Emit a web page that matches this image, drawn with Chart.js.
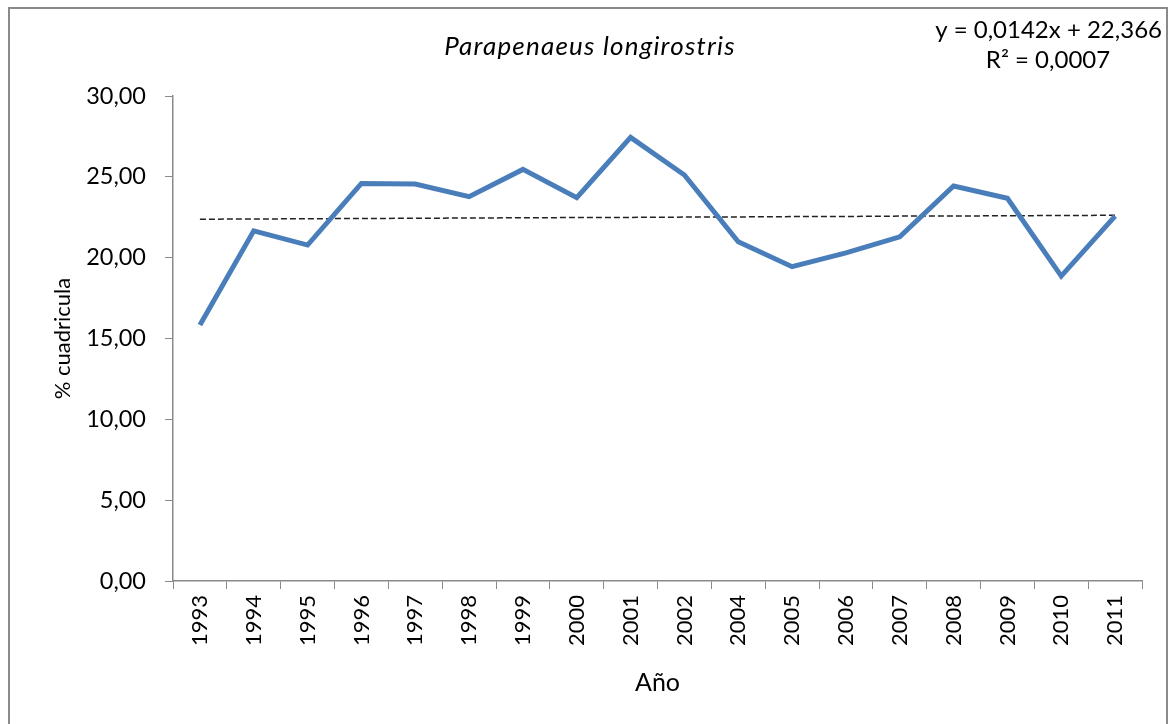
<!DOCTYPE html>
<html>
<head>
<meta charset="utf-8">
<script src="https://cdn.jsdelivr.net/npm/chart.js@4"></script>
<style>
  html, body { margin: 0; padding: 0; background: #fff; }
  #wrap { width: 1172px; height: 724px; position: relative; }
</style>
</head>
<body>
<div id="wrap"><canvas id="grafico" width="1172" height="724"></canvas></div>
<script>
// Datos
const anios = ['1993','1994','1995','1996','1997','1998','1999','2000','2001','2002',
               '2004','2005','2006','2007','2008','2009','2010','2011'];
const cuadricula = [15.83, 21.66, 20.78, 24.59, 24.55, 23.77, 25.46, 23.71, 27.44, 25.11,
                    20.98, 19.44, 20.30, 21.29, 24.43, 23.67, 18.86, 22.57];
// Línea de tendencia (y = 0,0142x + 22,366)
const tendencia = [22.38, 22.39, 22.41, 22.42, 22.44, 22.45, 22.47, 22.48, 22.49, 22.51,
                   22.52, 22.54, 22.55, 22.57, 22.58, 22.59, 22.61, 22.62];
const ticksY = [0, 5, 10, 15, 20, 25, 30];

const fuente = 'Lato, "Open Sans", sans-serif';

// Marco y textos que no son de ejes
const marco = {
    id: 'marco',
    beforeDraw(chart) {
        const c = chart.ctx;
        c.save();
        c.fillStyle = '#fff';
        c.fillRect(0, 0, chart.width, chart.height);
        c.strokeStyle = '#8a8a8a';
        c.lineWidth = 2;
        c.strokeRect(9, 8, 1158, 730);
        c.restore();
    },
    afterDraw(chart) {
        const c = chart.ctx;
        c.save();
        c.fillStyle = '#000';
        c.textBaseline = 'middle';
        c.font = 'italic 26px ' + fuente;
        c.letterSpacing = '1.2px';
        c.textAlign = 'center';
        c.fillText('Parapenaeus longirostris', 590, 47);
        c.letterSpacing = '0px';
        c.font = '24px ' + fuente;
        c.textAlign = 'right';
        c.fillText('y = 0,0142x + 22,366', 1162, 30);
        c.textAlign = 'center';
        c.fillText('R² = 0,0007', 1048, 60);
        c.restore();
    }
};

new Chart(document.getElementById('grafico'), {
    type: 'line',
    data: {
        labels: anios,
        datasets: [{
            label: '% cuadricula',
            data: cuadricula,
            borderColor: '#4A7EBB',
            borderWidth: 5,
            pointRadius: 0,
            tension: 0,
            borderJoinStyle: 'miter'
        }, {
            label: 'Tendencia',
            data: tendencia,
            borderColor: '#222',
            borderWidth: 1.5,
            borderDash: [6, 3],
            pointRadius: 0,
            tension: 0
        }]
    },
    options: {
        responsive: false,
        animation: false,
        layout: { padding: { top: 96, right: 30, left: 0, bottom: 0 } },
        plugins: {
            legend: { display: false },
            tooltip: { enabled: false }
        },
        scales: {
            x: {
                offset: true,
                grid: { offset: true, drawOnChartArea: false, color: '#8a8a8a', tickLength: 8 },
                border: { color: '#8a8a8a', width: 1.5 },
                ticks: {
                    color: '#000', font: { family: fuente, size: 22 },
                    minRotation: 90, maxRotation: 90, padding: 6, autoSkip: false
                },
                title: {
                    display: true, text: 'Año', color: '#000',
                    font: { family: fuente, size: 25 },
                    padding: { top: 0, bottom: 26 }
                },
                afterFit(s) { s.height = 143; }
            },
            y: {
                min: 0, max: 30,
                afterBuildTicks(s) { s.ticks = ticksY.map(v => ({ value: v })); },
                grid: { drawOnChartArea: false, color: '#8a8a8a', tickLength: 8 },
                border: { color: '#8a8a8a', width: 1.5 },
                ticks: {
                    color: '#000', font: { family: fuente, size: 23.5 }, padding: 19,
                    callback: v => v.toFixed(2).replace('.', ',')
                },
                title: {
                    display: true, text: '% cuadricula', color: '#000',
                    font: { family: fuente, size: 22 },
                    padding: { top: 50, bottom: 0 }
                },
                afterFit(s) { s.width = 173; }
            }
        }
    },
    plugins: [marco]
});
</script>
</body>
</html>
